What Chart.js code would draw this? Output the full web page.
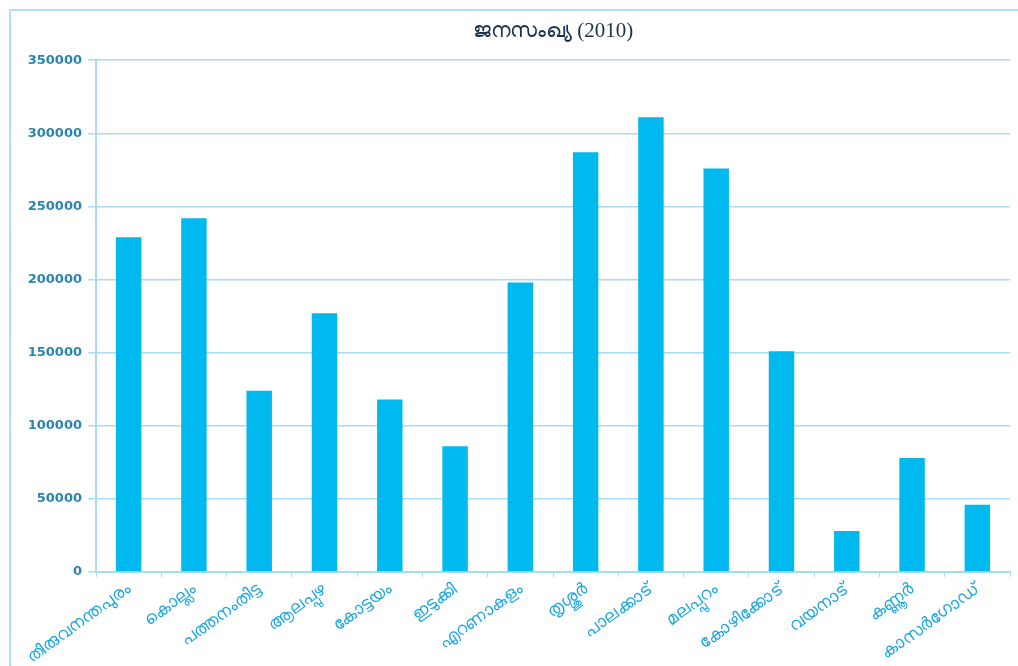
<!DOCTYPE html>
<html>
<head>
<meta charset="utf-8">
<script src="https://cdn.jsdelivr.net/npm/chart.js@4"></script>
<style>
  html, body { margin: 0; padding: 0; background: #fff; overflow: hidden; }
  #frame { position: absolute; left: 9px; top: 9px; width: 1100px; height: 800px;
           border: 2px solid #b3def4; }
  #wrap { position: absolute; left: 0; top: 0; width: 1018px; height: 666px; }
</style>
</head>
<body>
<div id="frame"></div>
<div id="wrap"><canvas id="myChart"></canvas></div>
<script>
// District names along the x-axis
var districts = ['തിരുവനന്തപുരം', 'കൊല്ലം', 'പത്തനംതിട്ട', 'ആലപ്പുഴ', 'കോട്ടയം', 'ഇടുക്കി',
  'എറണാകുളം', 'തൃശ്ശൂർ', 'പാലക്കാട്', 'മലപ്പുറം', 'കോഴിക്കോട്', 'വയനാട്', 'കണ്ണൂർ', 'കാസർഗോഡ്'];

// Population values (2010)
var population = [229000, 242000, 124000, 177000, 118000, 86000,
  198000, 287000, 311000, 276000, 151000, 28000, 78000, 46000];

var yTicks = [0, 50000, 100000, 150000, 200000, 250000, 300000, 350000];

var ctx = document.getElementById('myChart');
var myChart = new Chart(ctx, {
  type: 'bar',
  data: {
    labels: districts,
    datasets: [{
      data: population,
      backgroundColor: '#00b9ef',
      barPercentage: 0.78,
      categoryPercentage: 0.5
    }]
  },
  options: {
    responsive: true,
    maintainAspectRatio: false,
    animation: false,
    layout: { padding: { left: 0, right: 8, top: 0, bottom: 0 } },
    plugins: {
      legend: { display: false },
      tooltip: { enabled: false },
      title: {
        display: true,
        fullSize: false,
        text: 'ജനസംഖ്യ (2010)',
        color: '#17324d',
        font: { family: '"Liberation Serif", "Noto Sans", serif', size: 21, weight: 'normal' },
        padding: { top: 19, bottom: 16 }
      }
    },
    scales: {
      x: {
        grid: { display: true, drawOnChartArea: false, offset: true, color: '#a9dcf3', tickLength: 5 },
        border: { color: '#a9dcf3', width: 2 },
        ticks: {
          color: '#1aa6e0',
          font: { family: '"Noto Sans", "DejaVu Sans", sans-serif', size: 17 },
          maxRotation: 36, minRotation: 36, autoSkip: false, padding: 2
        },
        afterFit: function (scale) { scale.height = 94; }
      },
      y: {
        min: 0, max: 350000,
        afterBuildTicks: function (scale) {
          scale.ticks = yTicks.map(function (v) { return { value: v }; });
        },
        grid: { color: '#a9dcf3', lineWidth: 1.5, tickLength: 8 },
        border: { color: '#a9dcf3', width: 2 },
        ticks: {
          color: '#2a84b0',
          font: { family: '"DejaVu Sans", sans-serif', size: 13, weight: 'bold' },
          padding: 6,
          callback: function (v) { return String(v); }
        },
        afterFit: function (scale) { scale.width = 96; }
      }
    }
  }
});
</script>
</body>
</html>
